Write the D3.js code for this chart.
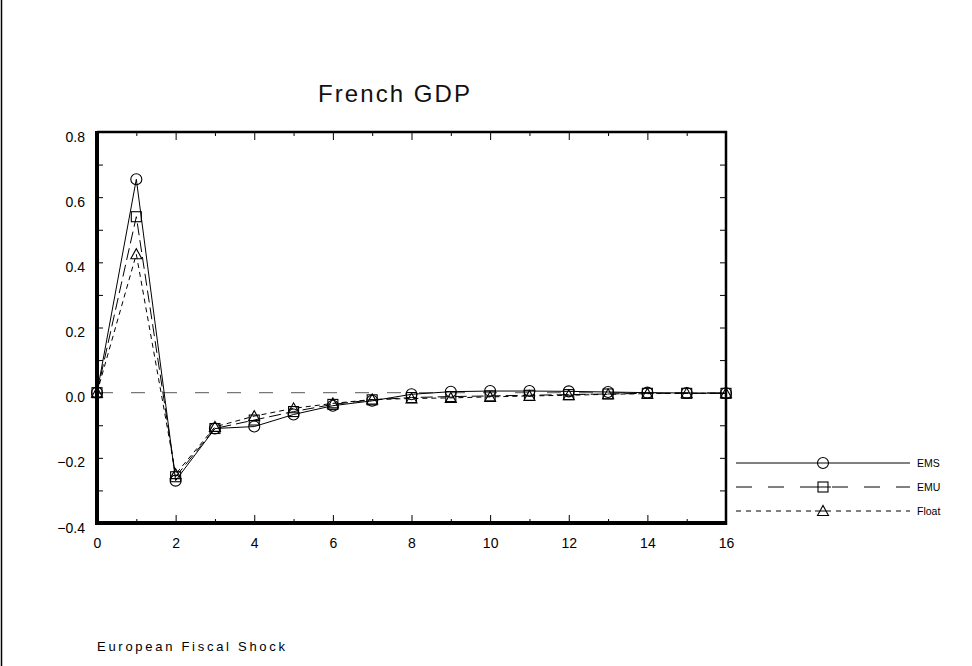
<!DOCTYPE html>
<html>
<head>
<meta charset="utf-8">
<script src="https://cdn.jsdelivr.net/npm/d3@7"></script>
<style>
  body { margin: 0; background: #fff; }
  text { font-family: "Liberation Sans", Arial, sans-serif; }
</style>
</head>
<body>
<div id="chart"></div>
<script>
// periods after the shock
const periods = d3.range(0, 17);

// series values
const ems   = [0.0, 0.655, -0.27, -0.11, -0.104, -0.067, -0.040, -0.025, -0.005, 0.003, 0.005, 0.005, 0.004, 0.002, 0.0, -0.001, -0.002];
const emu   = [0.0, 0.54, -0.258, -0.11, -0.084, -0.058, -0.036, -0.022, -0.015, -0.012, -0.010, -0.008, -0.006, -0.004, -0.002, -0.002, -0.002];
const float = [0.0, 0.425, -0.25, -0.105, -0.072, -0.048, -0.033, -0.021, -0.018, -0.016, -0.013, -0.010, -0.008, -0.005, -0.003, -0.002, -0.002];

const seriesNames = ["EMS", "EMU", "Float"];
const xTickLabels = [0, 2, 4, 6, 8, 10, 12, 14, 16];
const yTickLabels = [-0.4, -0.2, 0.0, 0.2, 0.4, 0.6, 0.8];

const W = 972, H = 666;
let margin = { top: 132, left: 97 },
    width = 629,
    height = 391;

let svg = d3.select("#chart").append("svg")
    .attr("width", W)
    .attr("height", H);

// page border on the left
svg.append("line")
    .attr("x1", 1.5).attr("x2", 1.5)
    .attr("y1", 0).attr("y2", H)
    .attr("stroke", "#000").attr("stroke-width", 1.5);

let g = svg.append("g")
    .attr("transform", "translate(" + margin.left + "," + margin.top + ")");

let x = d3.scaleLinear().domain([0, 16]).range([0, width]);
let y = d3.scaleLinear().domain([-0.4, 0.8]).range([height, 0]);

const evenX = periods.filter(d => d % 2 === 0);
const oddX = periods.filter(d => d % 2 === 1);
const yMinor = d3.range(-4, 9).map(d => d / 10);

function noDomain(sel) {
    sel.select(".domain").remove();
    sel.selectAll("line").attr("stroke", "#000").attr("stroke-width", 1);
}

// inward ticks on all four sides
g.append("g").call(d3.axisRight(y).tickValues(yMinor).tickSize(6).tickFormat("")).call(noDomain);
g.append("g").attr("transform", "translate(" + width + ",0)")
    .call(d3.axisLeft(y).tickValues(yMinor).tickSize(6).tickFormat("")).call(noDomain);
g.append("g").attr("transform", "translate(0," + height + ")")
    .call(d3.axisTop(x).tickValues(evenX).tickSize(8).tickFormat("")).call(noDomain);
g.append("g").attr("transform", "translate(0," + height + ")")
    .call(d3.axisTop(x).tickValues(oddX).tickSize(4).tickFormat("")).call(noDomain);
g.append("g")
    .call(d3.axisBottom(x).tickValues(evenX).tickSize(8).tickFormat("")).call(noDomain);
g.append("g")
    .call(d3.axisBottom(x).tickValues(oddX).tickSize(4).tickFormat("")).call(noDomain);

// tick labels
let yl = g.append("g")
    .call(d3.axisLeft(y).tickValues(yTickLabels).tickSize(0).tickPadding(12)
        .tickFormat(d => d3.format(".1f")(d).replace("-", "\u2212")));
yl.select(".domain").remove();
yl.selectAll("text").attr("font-size", 14).attr("dy", "0.65em").attr("fill", "#000")
    .attr("font-family", "\"Liberation Sans\", Arial, sans-serif");

let xl = g.append("g").attr("transform", "translate(0," + height + ")")
    .call(d3.axisBottom(x).tickValues(xTickLabels).tickSize(0).tickPadding(15));
xl.select(".domain").remove();
xl.selectAll("text").attr("font-size", 14).attr("fill", "#000")
    .attr("font-family", "\"Liberation Sans\", Arial, sans-serif");

// zero reference line
g.append("line")
    .attr("x1", x(0)).attr("x2", x(16))
    .attr("y1", y(0)).attr("y2", y(0))
    .attr("stroke", "#777").attr("stroke-width", 1.3)
    .attr("stroke-dasharray", "14,18")
    .attr("stroke-dashoffset", -2);

const styles = {
    EMS:   { data: ems,   dash: null,   legendDash: null,    marker: "circle" },
    EMU:   { data: emu,   dash: "12,5", legendDash: "16,16", marker: "square" },
    Float: { data: float, dash: "5,4",  legendDash: "5,5",   marker: "triangle" }
};

let line = d3.line()
    .x((d, i) => x(periods[i]))
    .y(d => y(d));

function drawMarker(sel, type, cx, cy) {
    if (type === "circle") {
        sel.append("circle").attr("cx", cx).attr("cy", cy).attr("r", 5.5)
            .attr("fill", "none").attr("stroke", "#000").attr("stroke-width", 1.1);
    } else if (type === "square") {
        sel.append("rect").attr("x", cx - 5).attr("y", cy - 5).attr("width", 10).attr("height", 10)
            .attr("fill", "none").attr("stroke", "#000").attr("stroke-width", 1.1);
    } else {
        sel.append("path")
            .attr("d", "M" + (cx - 5.5) + "," + (cy + 4.5) + "L" + cx + "," + (cy - 5.5) + "L" + (cx + 5.5) + "," + (cy + 4.5) + "Z")
            .attr("fill", "none").attr("stroke", "#000").attr("stroke-width", 1.1);
    }
}

seriesNames.forEach(function (name) {
    let s = styles[name];
    g.append("path")
        .datum(s.data)
        .attr("d", line)
        .attr("fill", "none")
        .attr("stroke", "#000")
        .attr("stroke-width", 1)
        .attr("stroke-dasharray", s.dash);
    let mg = g.append("g");
    s.data.forEach(function (v, i) {
        drawMarker(mg, s.marker, x(periods[i]), y(v));
    });
});

// frame
g.append("line").attr("x1", 0).attr("x2", 0).attr("y1", -1).attr("y2", height + 2)
    .attr("stroke", "#000").attr("stroke-width", 4);
g.append("line").attr("x1", -2).attr("x2", width + 1).attr("y1", height).attr("y2", height)
    .attr("stroke", "#000").attr("stroke-width", 4);
g.append("line").attr("x1", 0).attr("x2", width + 1).attr("y1", 0).attr("y2", 0)
    .attr("stroke", "#000").attr("stroke-width", 2.5);
g.append("line").attr("x1", width).attr("x2", width).attr("y1", -1).attr("y2", height + 2)
    .attr("stroke", "#000").attr("stroke-width", 2.5);

// legend
let legendY = [463, 487, 511];
let lg = svg.append("g");
seriesNames.forEach(function (name, i) {
    let s = styles[name];
    lg.append("line")
        .attr("x1", 736).attr("x2", 910)
        .attr("y1", legendY[i]).attr("y2", legendY[i])
        .attr("stroke", "#000").attr("stroke-width", 1)
        .attr("stroke-dasharray", s.legendDash);
    lg.append("rect").attr("x", 815).attr("y", legendY[i] - 7).attr("width", 16).attr("height", 14)
        .attr("fill", "#fff");
    lg.append("line").attr("x1", 815).attr("x2", 831)
        .attr("y1", legendY[i]).attr("y2", legendY[i])
        .attr("stroke", "#000").attr("stroke-width", 1);
    drawMarker(lg, s.marker, 823, legendY[i]);
    lg.append("text")
        .attr("x", 917).attr("y", legendY[i] + 4)
        .attr("font-size", 10.5)
        .text(name);
});

// title and footnote
svg.append("text")
    .attr("x", 318).attr("y", 102)
    .attr("font-size", 24)
    .attr("textLength", 152)
    .attr("lengthAdjust", "spacing")
    .attr("fill", "#111")
    .text("French GDP");

svg.append("text")
    .attr("x", 97).attr("y", 651)
    .attr("font-size", 13)
    .attr("textLength", 188)
    .attr("lengthAdjust", "spacing")
    .text("European Fiscal Shock");
</script>
</body>
</html>
